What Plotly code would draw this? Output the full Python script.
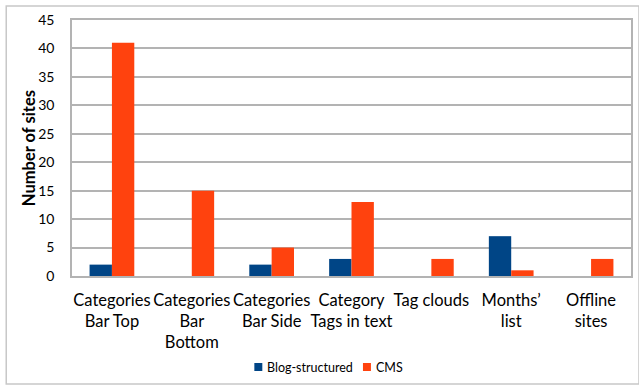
import plotly.graph_objects as go

categories = [
    "Categories<br>Bar Top",
    "Categories<br>Bar<br>Bottom",
    "Categories<br>Bar Side",
    "Category<br>Tags in text",
    "Tag clouds",
    "Months’<br>list",
    "Offline<br>sites",
]
blog_structured = [2, 0, 2, 3, 0, 7, 0]
cms = [41, 15, 5, 13, 3, 1, 3]
y_ticks = [0, 5, 10, 15, 20, 25, 30, 35, 40, 45]
series_names = ["Blog-structured", "CMS"]
y_title = "Number of sites"

BLUE = "#004586"
ORANGE = "#ff420e"
GRID = "#b3b3b3"
FONT = "Lato, 'Open Sans', sans-serif"

fig = go.Figure()
fig.add_trace(go.Bar(name=series_names[0], x=categories, y=blog_structured,
                     marker=dict(color=BLUE, line=dict(width=0))))
fig.add_trace(go.Bar(name=series_names[1], x=categories, y=cms,
                     marker=dict(color=ORANGE, line=dict(width=0))))

L, R, T, B = 72, 6, 20, 109
W, H = 639, 385
pw, ph = W - L - R, H - T - B


def px_x(x):
    return (x - L) / pw


def px_y(y):
    return (H - B - y) / ph


fig.update_layout(
    width=W, height=H,
    margin=dict(l=L, r=R, t=T, b=B),
    paper_bgcolor="white", plot_bgcolor="white",
    barmode="group", bargap=0.44, bargroupgap=0,
    font=dict(family=FONT, color="#000000"),
    showlegend=False,
    xaxis=dict(
        showgrid=False, showline=True, linecolor=GRID, linewidth=1.5,
        mirror=True, ticks="", tickfont=dict(size=16.5, family=FONT),
        tickangle=0, ticklabelstandoff=8,
    ),
    yaxis=dict(
        range=[0, 45], tickvals=y_ticks, showgrid=True, gridcolor=GRID,
        gridwidth=1.5, showline=True, linecolor=GRID, linewidth=1.5,
        mirror=True, ticks="", zeroline=False,
        tickfont=dict(size=14, family=FONT), ticklabelstandoff=13,
    ),
)

# Rotated axis title
fig.add_annotation(text=f"<b>{y_title}</b>", xref="paper", yref="paper",
                   x=px_x(29), y=px_y(148), textangle=-90, showarrow=False,
                   xanchor="center", yanchor="middle",
                   font=dict(size=16.5, family=FONT))

# Light frame around the whole chart
fig.add_shape(
    type="rect", xref="paper", yref="paper",
    x0=px_x(6), x1=px_x(W + 2), y0=px_y(384), y1=px_y(6),
    line=dict(color="#c8c8c8", width=1.5), layer="below",
)

# Legend: small coloured squares with series names
legend_items = [(series_names[0], BLUE, 255), (series_names[1], ORANGE, 364)]
for name, color, x0 in legend_items:
    fig.add_shape(type="rect", xref="paper", yref="paper",
                  x0=px_x(x0), x1=px_x(x0 + 8), y0=px_y(371), y1=px_y(363),
                  fillcolor=color, line=dict(width=0))
    fig.add_annotation(text=name, xref="paper", yref="paper",
                       x=px_x(x0 + 11), y=px_y(367), xanchor="left",
                       yanchor="middle", showarrow=False,
                       font=dict(size=12.5, family=FONT))

fig.write_html("out.html")
